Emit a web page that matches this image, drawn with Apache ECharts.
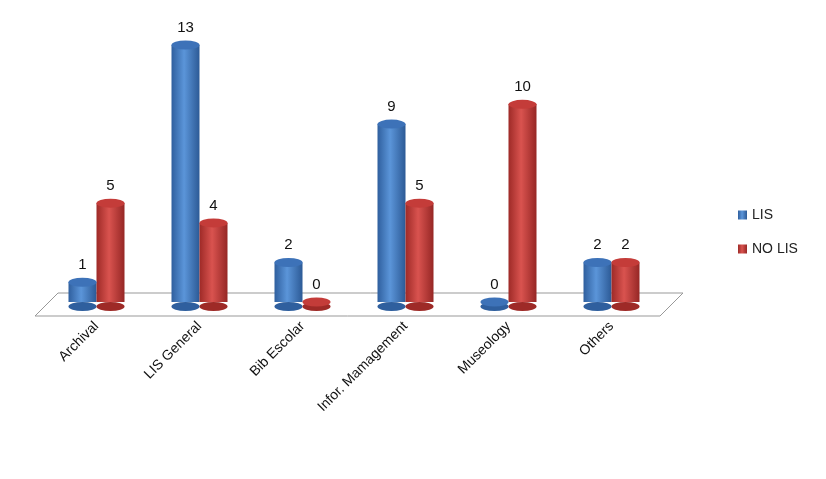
<!DOCTYPE html><html><head><meta charset="utf-8">
<script src="https://cdn.jsdelivr.net/npm/echarts@6/dist/echarts.min.js"></script>
<style>html,body{margin:0;background:#fff}#c{width:826px;height:479px}</style></head><body><div id="c"></div>
<script>
const categories=['Archival','LIS General','Bib Escolar','Infor. Mamagement','Museology','Others'];
const lis=[1,13,2,9,0,2];
const nolis=[5,4,0,5,10,2];
const chart=echarts.init(document.getElementById('c'));
function grad(c1,c2,c3){return new echarts.graphic.LinearGradient(0,0,1,0,[{offset:0,color:c1},{offset:0.45,color:c2},{offset:1,color:c3}]);}
const blue=grad('#2f5f9e','#5b95d9','#2c5a96'), red=grad('#9e2a27','#d9534f','#962725');
const bw=28;
function cap(name,data,dx,color,dy,z){return {name:name,type:'pictorialBar',data:data,symbol:'circle',symbolSize:[bw,9],symbolPosition:'end',symbolOffset:[dx,dy],barWidth:bw,barGap:'-100%',itemStyle:{color:color},z:z};}
chart.setOption({
 animation:false,
 grid:{left:45,right:163,top:45,bottom:177},
 graphic:[{type:'polygon',z:-1,shape:{points:[[35,316],[660,316],[683,293],[58,293]]},style:{fill:'#fff',stroke:'#999',lineWidth:1}}],
 legend:{orient:'vertical',left:733,top:203,itemGap:20,itemWidth:9,itemHeight:9,icon:'rect',textStyle:{fontFamily:'Liberation Sans',fontSize:14,color:'#222'},data:['LIS','NO LIS']},
 xAxis:{type:'category',data:categories,axisLine:{show:false},axisTick:{show:false},
  axisLabel:{rotate:45,interval:0,fontFamily:'Liberation Sans',fontSize:14,color:'#111',margin:22}},
 yAxis:{type:'value',min:0,max:13,show:false},
 series:[
  {name:'LIS',type:'bar',data:lis,barWidth:bw,barGap:'0%',z:2,itemStyle:{color:blue},label:{show:true,position:'top',distance:10,fontFamily:'Liberation Sans',fontSize:15,color:'#111'}},
  {name:'NO LIS',type:'bar',data:nolis,barWidth:bw,barGap:'0%',z:2,itemStyle:{color:red},label:{show:true,position:'top',distance:10,fontFamily:'Liberation Sans',fontSize:15,color:'#111'}},
  cap('LIS',lis,-bw/2,'#3d72b8','-50%',3),
  cap('NO LIS',nolis,bw/2,'#c43c39','-50%',3),
  cap('LIS',lis.map(()=>0),-bw/2,'#2f5f9e',0,1),
  cap('NO LIS',nolis.map(()=>0),bw/2,'#9e2a27',0,1)
 ]
});
</script></body></html>
